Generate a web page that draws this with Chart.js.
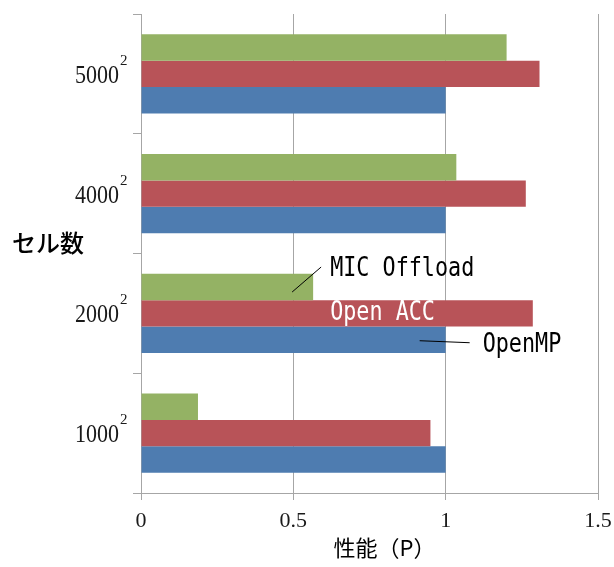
<!DOCTYPE html>
<html>
<head>
<meta charset="utf-8">
<script src="https://cdn.jsdelivr.net/npm/chart.js@4.4.1/dist/chart.umd.min.js"></script>
<style>
  html, body { margin: 0; padding: 0; background: #fff; }
  #wrap { width: 614px; height: 567px; position: relative; }
</style>
</head>
<body>
<div id="wrap"><canvas id="chart"></canvas></div>
<script>
// Problem sizes (cells = N^2), listed top to bottom
const categories = ['5000', '4000', '2000', '1000'];
const exponent = '2';

// Relative performance, OpenMP = 1
const micOffload = [1.20, 1.035, 0.565, 0.187];
const openAcc = [1.308, 1.263, 1.286, 0.95];
const openMp = [1.0, 1.0, 1.0, 1.0];

const xTicks = [0, 0.5, 1, 1.5];
const seriesNames = ['MIC Offload', 'Open ACC', 'OpenMP'];
const xTitle = '性能（P）';
const yTitle = 'セル数';

const GRID = '#a6a6a6';

function drawLine(ctx, x1, y1, x2, y2) {
    ctx.beginPath();
    ctx.moveTo(x1, y1);
    ctx.lineTo(x2, y2);
    ctx.stroke();
}

// Gothic-style half-width text: monospace squeezed to a fixed advance
function drawNarrow(ctx, text, x, y, color) {
    ctx.save();
    ctx.font = '26px "DejaVu Sans Mono", monospace';
    ctx.textBaseline = 'middle';
    ctx.textAlign = 'left';
    ctx.fillStyle = color;
    const w = ctx.measureText(text).width;
    const sx = (text.length * 13.1) / w;
    ctx.translate(x, y);
    ctx.scale(sx, 1);
    ctx.fillText(text, 0, 0);
    ctx.restore();
}

// Series names placed next to the 2000^2 group
const seriesLabels = {
    id: 'seriesLabels',
    afterDatasetsDraw(chart) {
        const ctx = chart.ctx;
        const idx = categories.indexOf('2000');
        const mic = chart.getDatasetMeta(0).data[idx];
        const acc = chart.getDatasetMeta(1).data[idx];
        const omp = chart.getDatasetMeta(2).data[idx];

        ctx.save();
        ctx.strokeStyle = '#000';
        ctx.lineWidth = 1;
        drawLine(ctx, mic.x - 21, mic.y + 5, mic.x + 8, mic.y - 20);
        drawLine(ctx, omp.x - 26, omp.y + 1, omp.x + 24, omp.y + 3);
        ctx.restore();

        drawNarrow(ctx, seriesNames[0], mic.x + 17, mic.y - 18, '#000');
        drawNarrow(ctx, seriesNames[1], mic.x + 17, acc.y, '#fff');
        drawNarrow(ctx, seriesNames[2], omp.x + 37, omp.y + 6, '#000');
    }
};

// Category labels with superscript, plus both axis titles
const axisText = {
    id: 'axisText',
    afterDraw(chart) {
        const ctx = chart.ctx;
        const yScale = chart.scales.y;
        const area = chart.chartArea;
        ctx.save();
        ctx.fillStyle = '#1a1a1a';
        ctx.textBaseline = 'alphabetic';
        categories.forEach((cat, i) => {
            const y = yScale.getPixelForValue(i);
            ctx.save();
            ctx.font = '25px "Liberation Serif", serif';
            ctx.textAlign = 'right';
            ctx.translate(119, y + 9);
            ctx.scale(0.88, 1);
            ctx.fillText(cat, 0, 0);
            ctx.restore();
            ctx.font = '15px "Liberation Serif", serif';
            ctx.textAlign = 'left';
            ctx.fillText(exponent, 120, y - 9);
        });

        ctx.fillStyle = '#000';
        ctx.font = '500 24px "Noto Sans CJK JP"';
        ctx.textAlign = 'left';
        ctx.textBaseline = 'middle';
        ctx.fillText(yTitle, 12, 243);

        ctx.font = '22px "Noto Sans CJK JP"';
        ctx.textAlign = 'center';
        ctx.fillText(xTitle, (area.left + area.right) / 2 + 15, 548);
        ctx.restore();
    }
};

new Chart(document.getElementById('chart'), {
    type: 'bar',
    data: {
        labels: categories,
        datasets: [
            { label: seriesNames[0], data: micOffload, backgroundColor: '#94b264' },
            { label: seriesNames[1], data: openAcc, backgroundColor: '#b85358' },
            { label: seriesNames[2], data: openMp, backgroundColor: '#4e7cb0' }
        ]
    },
    options: {
        indexAxis: 'y',
        responsive: true,
        maintainAspectRatio: false,
        animation: false,
        layout: { padding: { top: 14, right: 16, left: 0, bottom: 0 } },
        datasets: {
            bar: { categoryPercentage: 0.66, barPercentage: 1.0, borderWidth: 0 }
        },
        plugins: {
            legend: { display: false },
            tooltip: { enabled: false }
        },
        scales: {
            x: {
                min: 0,
                max: 1.5,
                afterBuildTicks: (s) => { s.ticks = xTicks.map(v => ({ value: v })); },
                afterFit: (s) => {
                    s.height = 74;
                    s.paddingLeft = 0;
                    s.paddingRight = 0;
                },
                ticks: {
                    callback: (v) => String(v),
                    color: '#1a1a1a',
                    padding: 8,
                    maxRotation: 0,
                    font: { family: '"Liberation Serif", serif', size: 22 }
                },
                grid: { color: GRID, lineWidth: 1, tickLength: 7 },
                border: { display: true, color: GRID }
            },
            y: {
                afterFit: (s) => { s.width = 141; },
                ticks: { display: false },
                grid: { drawOnChartArea: false, color: GRID, tickLength: 8, offset: true },
                border: { display: true, color: GRID }
            }
        }
    },
    plugins: [seriesLabels, axisText]
});
</script>
</body>
</html>
